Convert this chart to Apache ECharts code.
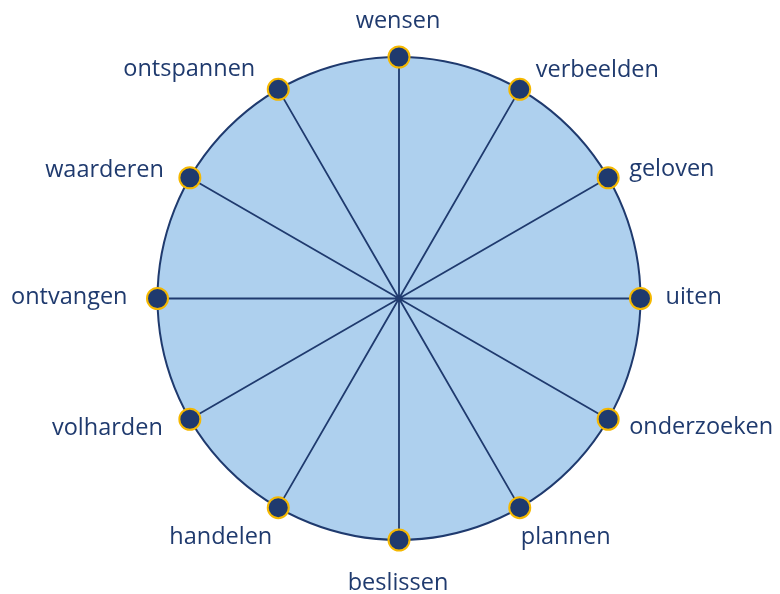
<!DOCTYPE html>
<html>
<head>
<meta charset="utf-8">
<style>
  html, body { margin: 0; padding: 0; background: #ffffff; }
  #main { width: 780px; height: 594px; }
</style>
<script src="https://cdn.jsdelivr.net/npm/echarts@6/dist/echarts.min.js"></script>
</head>
<body>
<div id="main"></div>
<script>
// categories clockwise from the top
var categories = ['wensen', 'verbeelden', 'geloven', 'uiten', 'onderzoeken', 'plannen',
    'beslissen', 'handelen', 'volharden', 'ontvangen', 'waarderen', 'ontspannen'];
// every point sits on the outer ring
var radiusValues = [1, 1, 1, 1, 1, 1, 1, 1, 1, 1, 1, 1];

(function () {
    var myChart = echarts.init(document.getElementById('main'));
    var navy = '#1f3a6e';
    var symbolSize = 21;

    // label offset from the dot centre (px) and text alignment
    var labelLayout = [
        [0, -35, 'center'],
        [17, -18, 'left'],
        [22, -7, 'left'],
        [26, 0, 'left'],
        [22, 9, 'left'],
        [2, 31, 'left'],
        [0, 44, 'center'],
        [-5, 31, 'right'],
        [-26, 10, 'right'],
        [-29, 0, 'right'],
        [-25, -6, 'right'],
        [-22, -19, 'right']
    ];

    // angle axis is a value axis (one unit per category) so the ring is closed
    var points = categories.map(function (c, i) {
        var l = labelLayout[i];
        return {
            name: c,
            value: [radiusValues[i], i],
            label: {
                position: [l[0] + symbolSize / 2, l[1] + symbolSize / 2],
                align: l[2],
                verticalAlign: 'middle'
            }
        };
    });

    var option = {
        animation: false,
        polar: {
            center: [399, 298.5],
            radius: 241.5
        },
        angleAxis: {
            type: 'value',
            min: 0,
            max: categories.length,
            interval: 1,
            startAngle: 90,
            clockwise: true,
            axisLine: { show: true, lineStyle: { color: navy, width: 2 } },
            axisTick: { show: false },
            axisLabel: { show: false },
            splitLine: { show: true, lineStyle: { color: navy, width: 1.8 } }
        },
        radiusAxis: {
            type: 'value',
            min: 0,
            max: 1,
            interval: 1,
            axisLine: { show: false },
            axisTick: { show: false },
            axisLabel: { show: false },
            splitLine: { show: false },
            splitArea: { show: true, areaStyle: { color: ['#aed0ee'] } }
        },
        series: [
            {
                type: 'scatter',
                coordinateSystem: 'polar',
                data: points,
                symbolSize: symbolSize,
                itemStyle: {
                    color: navy,
                    borderColor: '#f5b800',
                    borderWidth: 2,
                    opacity: 1
                },
                label: {
                    show: true,
                    formatter: '{b}',
                    color: navy,
                    fontSize: 23.5,
                    fontFamily: 'Open Sans'
                },
                z: 10
            }
        ]
    };

    myChart.setOption(option);
    window.addEventListener('resize', function () {
        myChart.resize();
    });
})();
</script>
</body>
</html>
